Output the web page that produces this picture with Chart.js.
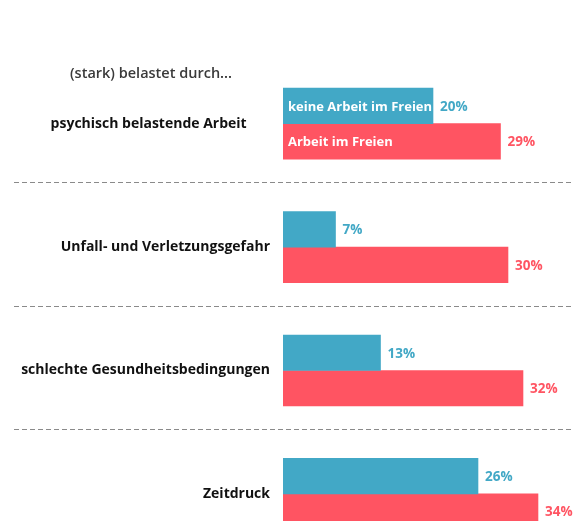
<!DOCTYPE html>
<html><head><meta charset="utf-8">
<script src="https://cdn.jsdelivr.net/npm/chart.js@4"></script>
<style>html,body{margin:0;padding:0;overflow:hidden;background:#fff;}canvas{display:block;}</style>
</head><body>
<canvas id="c" width="573" height="569"></canvas>
<script>
const categories = ['psychisch belastende Arbeit','Unfall- und Verletzungsgefahr','schlechte Gesundheitsbedingungen','Zeitdruck'];
const seriesNames = ['keine Arbeit im Freien','Arbeit im Freien'];
const keineArbeitImFreien = [20, 7, 13, 26];
const arbeitImFreien = [29, 30, 32, 34];
const headerText = '(stark) belastet durch...';
const colors = ['#42a8c6', '#ff5462'];
const FONT = '"Open Sans", "DejaVu Sans", sans-serif';

const overlay = {
  id: 'overlay',
  afterDatasetsDraw(chart) {
    const ctx = chart.ctx;
    const y = chart.scales.y;
    ctx.save();
    // header
    ctx.font = '600 14.5px ' + FONT;
    ctx.fillStyle = '#3a3a3a';
    ctx.textAlign = 'left';
    ctx.textBaseline = 'middle';
    ctx.fillText(headerText, 70, 74);
    // dashed separators
    ctx.strokeStyle = '#8a8a8a';
    ctx.lineWidth = 1.2;
    ctx.setLineDash([5, 3]);
    for (let i = 0; i < categories.length - 1; i++) {
      const py = Math.round((y.getPixelForValue(i) + y.getPixelForValue(i + 1)) / 2) - 2.5;
      ctx.beginPath();
      ctx.moveTo(14, py);
      ctx.lineTo(572, py);
      ctx.stroke();
    }
    ctx.setLineDash([]);
    // value labels
    chart.data.datasets.forEach((ds, di) => {
      const meta = chart.getDatasetMeta(di);
      meta.data.forEach((bar, i) => {
        ctx.font = '700 13.5px ' + FONT;
        ctx.fillStyle = colors[di];
        ctx.textAlign = 'left';
        ctx.textBaseline = 'middle';
        ctx.fillText(ds.data[i] + '%', bar.x + 7, bar.y + 1);
        if (i === 0) {
          ctx.font = '700 13px ' + FONT;
          ctx.fillStyle = '#ffffff';
          ctx.fillText(ds.label, bar.base + 5, bar.y + 1);
        }
      });
    });
    ctx.restore();
  }
};

new Chart(document.getElementById('c'), {
  type: 'bar',
  data: {
    labels: categories,
    datasets: [
      { label: seriesNames[0], data: keineArbeitImFreien, backgroundColor: colors[0], barThickness: 35.5 },
      { label: seriesNames[1], data: arbeitImFreien, backgroundColor: colors[1], barThickness: 35.5 }
    ]
  },
  options: {
    indexAxis: 'y',
    responsive: false,
    animation: false,
    layout: { padding: { top: 62, right: 0, bottom: 0, left: 0 } },
    plugins: { legend: { display: false }, tooltip: { enabled: false }, title: { display: false } },
    scales: {
      x: { display: false, min: 0, max: 38.67 },
      y: {
        grid: { display: false },
        border: { display: false },
        ticks: {
          color: '#111',
          font: { family: FONT, weight: '700', size: 14 },
          padding: 5,
          callback(value, index) {
            const lbl = this.getLabelForValue(value);
            return index === 0 ? lbl + '\u2003\u2002\u2009' : lbl;
          }
        },
        afterFit(scale) { scale.width = 283; }
      }
    }
  },
  plugins: [overlay]
});
</script>
</body></html>
